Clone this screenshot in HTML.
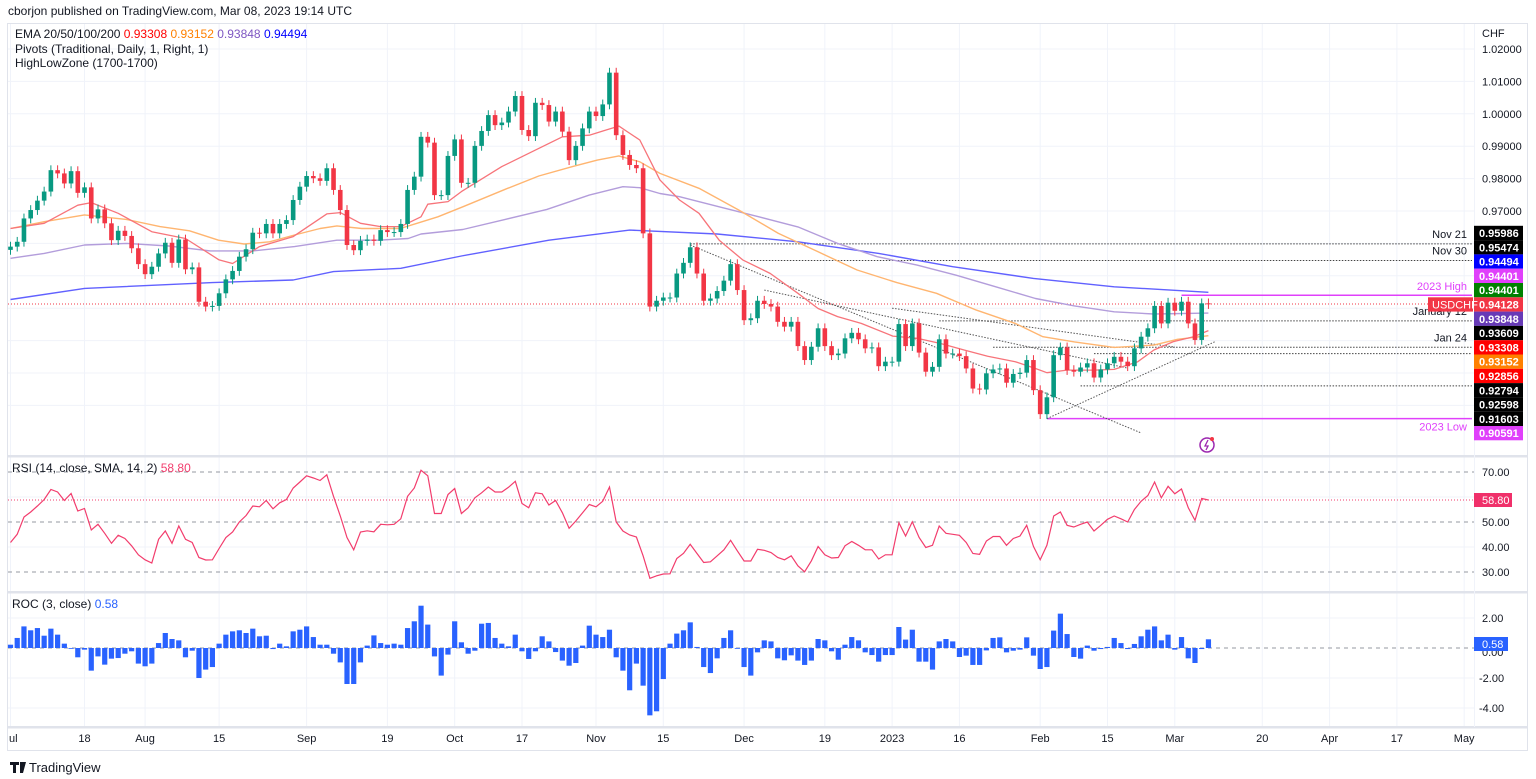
<!DOCTYPE html>
<html>
<head>
<meta charset="utf-8">
<style>
html,body{margin:0;padding:0;background:#fff;}
svg{display:block;font-family:"Liberation Sans",sans-serif;}
</style>
</head>
<body>
<svg id="chart" width="1536" height="779" viewBox="0 0 1536 779" xmlns="http://www.w3.org/2000/svg">
<text x="8" y="15" font-size="12" fill="#131722">cborjon published on TradingView.com, Mar 08, 2023 19:14 UTC</text>
<rect x="7.5" y="23.5" width="1520" height="727" fill="none" stroke="#e0e3eb"/>
<g id="grid"></g>
<g id="main"></g>
<g id="rsi"></g>
<g id="roc"></g>
<g id="axes"></g>
<g font-size="12" fill="#131722">
<text x="15" y="38">EMA 20/50/100/200 <tspan fill="#ff0000">0.93308</tspan> <tspan fill="#ff8000">0.93152</tspan> <tspan fill="#7e57c2">0.93848</tspan> <tspan fill="#0000ff">0.94494</tspan></text>
<text x="15" y="53">Pivots (Traditional, Daily, 1, Right, 1)</text>
<text x="15" y="67">HighLowZone (1700-1700)</text>
<text x="12" y="472">RSI (14, close, SMA, 14, 2) <tspan fill="#f23d6d">58.80</tspan></text>
<text x="12" y="608">ROC (3, close) <tspan fill="#2962ff">0.58</tspan></text>
</g>
<g>
<path d="M10 762h9v3h-3v8h-3v-8h-3z M20 762h6l-3 11h-3z" fill="#131722"/>
<text x="29" y="772" font-size="13" fill="#131722">TradingView</text>
</g>
<g>
<circle cx="1207" cy="445" r="7" fill="none" stroke="#9c27b0" stroke-width="1.5"/>
<path d="M1208 440l-3 6h3l-2 4" fill="none" stroke="#9c27b0" stroke-width="1.3"/>
<circle cx="1212" cy="439" r="2" fill="#f23645"/>
</g>
</svg>
<script>
const closes=[0.9590,0.9605,0.9677,0.9703,0.9732,0.9760,0.9826,0.9816,0.9785,0.9823,
0.9756,0.9773,0.9677,0.9705,0.9662,0.9610,0.9639,0.9623,0.9585,0.9536,
0.9505,0.9528,0.9569,0.9602,0.9540,0.9612,0.9520,0.9526,0.9420,0.9405,
0.9407,0.9446,0.9489,0.9515,0.9559,0.9582,0.9633,0.9631,0.9660,0.9631,
0.9660,0.9672,0.9734,0.9775,0.9808,0.9801,0.9793,0.9832,0.9765,0.9703,
0.9595,0.9579,0.9608,0.9612,0.9608,0.9641,0.9635,0.9635,0.9660,0.9765,
0.9806,0.9929,0.9911,0.9749,0.9749,0.9870,0.9921,0.9787,0.9787,0.9901,
0.9947,0.9996,0.9965,0.9973,1.0007,1.0055,0.9950,0.9931,1.0034,1.0027,
0.9976,1.0007,0.9945,0.9857,0.9901,0.9955,1.0007,0.9993,1.0029,1.0127,
0.9934,0.9873,0.9842,0.9832,0.9631,0.9405,
0.9423,0.9433,0.9433,0.9507,0.9540,0.9588,0.9507,0.9423,0.9430,0.9453,
0.9485,0.9536,0.9456,0.9363,0.9369,0.9423,0.9413,0.9405,0.9358,0.9343,
0.9358,0.9283,0.9240,0.9281,0.9338,0.9283,0.9255,0.9260,0.9307,0.9324,
0.9304,0.9276,0.9279,0.9221,0.9235,0.9235,0.9351,0.9283,0.9353,0.9263,
0.9204,0.9219,0.9304,0.9260,0.9260,0.9252,0.9214,0.9152,0.9149,0.9199,
0.9211,0.9214,0.9170,0.9197,0.9201,0.9240,0.9147,0.9073,0.9125,0.9255,
0.9279,0.9209,0.9204,0.9217,0.9230,0.9186,0.9211,0.9230,0.9250,0.9235,
0.9221,0.9276,0.9312,0.9338,0.9407,0.9353,0.9417,0.9392,0.9420,0.9353,
0.9302,0.9415,0.94128];
const rsiValues=[41.8,45.1,52,54,56.4,59,63,62,58.6,61.4,
54.4,55.4,46.8,49.1,45.5,41.5,44.7,43.4,40.5,36.9,
34.9,33.6,43.1,46.4,41.5,48.4,43.1,41.8,35.8,34.8,
34.9,39.4,43.8,46,50,52.6,56.4,56.1,58.6,55.3,
57.7,59,63.6,66,68.5,67.6,66.6,68.9,60.3,52.4,
43.8,38.9,46,46.5,46.1,49.1,48.9,49.1,51.3,60.3,
63.6,70.7,68.5,53.4,53.4,61,63.4,53.4,55.7,59.7,
61.7,64,62,62,63.9,66.3,57.4,55.7,61.7,61.3,
56.8,58.6,53.7,47.5,50.4,53.7,57,56.1,58.3,64,
50,46.4,44.8,44,36.5,27.5,28.5,
29.2,29.3,35.4,37.5,41.1,37.4,33.8,34.1,36.5,38.9,
42.7,38.5,34.4,34.4,39.1,38.7,37.8,35.8,34.9,36.5,
32.5,30.1,34.5,40.2,36.9,35.6,35.8,40.5,42.2,40.7,
38.9,38.9,35.2,36.9,36.9,49.7,44.4,50.1,43.8,39.8,
40.7,48.4,45.5,45.1,44.7,41.8,37.4,37.1,42.4,44.2,
44.2,40.7,43.4,44.4,48.7,40.2,34.9,40.7,52.4,54,
48.7,48,49.1,50,46.4,48.7,51.1,52.4,51.3,50,
55,58.3,60.6,66,59.7,64.3,61.3,63.2,55.7,50.7,
59.4,58.8];
const rocValues=[0.22,0.67,1.44,1.18,1.33,0.82,1.29,0.89,0.29,0,
-0.62,-0.11,-1.51,-0.56,-1.11,-0.71,-0.67,-0.38,-0.22,-1.04,
-1.22,-1.04,0.33,1.0,0.6,0.51,-0.62,-0.18,-2.0,-1.44,
-1.27,0.29,0.89,1.11,1.18,1.0,1.29,0.78,0.82,-0.07,
0.29,0.11,1.11,1.22,1.44,0.73,0.22,0.22,-0.38,-0.96,
-2.4,-2.4,-0.96,0.16,0.84,0.33,0.22,0.29,0.22,1.33,
1.78,2.82,1.56,-0.56,-1.84,-0.44,1.78,0.38,-0.38,-0.18,
1.62,1.67,0.67,0.29,0.11,0.89,-0.22,-0.73,-0.22,0.78,
0.44,-0.27,-0.84,-1.18,-1.0,0.16,1.49,0.89,0.73,1.22,
-0.62,-1.51,-2.82,-1.04,-2.51,-4.49,-4.22,
-2.07,0.29,0.96,1.18,1.71,0.07,-1.27,-1.67,-0.69,0.67,
1.18,0,-1.27,-1.84,-0.29,0.51,0.44,-0.69,-0.82,-0.49,
-0.84,-1.13,-0.84,0.6,0.51,-0.22,-0.78,0.22,0.73,0.51,
-0.29,-0.47,-0.91,-0.47,-0.47,1.4,0.56,1.22,-0.91,-0.91,
-1.44,0.44,0.6,0.44,-0.6,-0.51,-1.13,-1.13,-0.16,0.67,
0.71,-0.29,-0.18,-0.11,0.71,-0.51,-1.4,-1.27,1.16,2.29,
0.93,-0.6,-0.71,0.16,-0.18,-0.07,0.07,0.67,0.33,-0.07,
0.27,0.78,1.22,1.44,0.51,0.89,-0.11,0.73,-0.69,-1.0,
-0.07,0.58];
const ema20Days=[0,5,10,12,16,21,26,31,33,37,42,47,49,52,55,58,61,62,65,67,73,78,82,86,88.5,90.4,93.5,96.5,99.4,102.3,105.3,108.8,112.9,117,120,122.9,126.4,131.1,134.7,138.2,141.7,145.2,149.3,152.3,154,157,161,164,167.5,169.9,172.8,175.8,178];
const ema20=[0.9646,0.9662,0.9718,0.9726,0.9693,0.9636,0.9615,0.9549,0.9538,0.9590,0.9621,0.9691,0.9695,0.9662,0.9652,0.9652,0.9682,0.9721,0.9729,0.9760,0.9837,0.9888,0.9929,0.9934,0.9950,0.9962,0.9919,0.9796,0.9734,0.9693,0.9610,0.9549,0.9507,0.9446,0.9399,0.9374,0.9353,0.9314,0.9307,0.9291,0.9271,0.9252,0.9235,0.9214,0.9201,0.9209,0.9209,0.9211,0.9235,0.9271,0.9297,0.9312,0.9331];
const ema50Days=[0,5,11,17.2,22.2,26.6,30.9,34.7,38.5,42.2,46,48.5,52.2,57.9,60.4,63.5,67.2,73.5,78.5,83.5,87.2,90.4,93.5,96.5,102.3,108.2,114.1,120,125.8,131.7,137.6,143.5,149.3,153.4,158.1,164,169.9,173.4,178];
const ema50=[0.9646,0.9667,0.9688,0.9674,0.9652,0.9639,0.9610,0.9598,0.9605,0.9626,0.9646,0.9654,0.9646,0.9646,0.9662,0.9682,0.9713,0.9767,0.9808,0.9837,0.9857,0.9870,0.9852,0.9816,0.9770,0.9703,0.9631,0.9574,0.9518,0.9479,0.9446,0.9394,0.9353,0.9312,0.9296,0.9279,0.9286,0.9304,0.9315];
const ema100Days=[0,5,11,17.2,23.5,29.7,36,42.2,48.5,54.7,59.1,61,67.2,73.5,79.7,86,91,93.5,96.5,99.4,105.3,111.2,117,122.9,128.8,134.7,140.5,146.4,152.3,158.1,164,169.9,178];
const ema100=[0.9554,0.9569,0.9595,0.9600,0.9592,0.9577,0.9577,0.9590,0.9610,0.9610,0.9615,0.9629,0.9643,0.9674,0.9705,0.9749,0.9775,0.9772,0.9754,0.9744,0.9713,0.9682,0.9651,0.9600,0.9559,0.9533,0.9502,0.9466,0.9430,0.9407,0.9389,0.9382,0.9385];
const ema200Days=[0,11,30,42,48,58,67,80,92,105,117,129,140,152,164,178];
const ema200=[0.9427,0.9461,0.9479,0.9487,0.9513,0.9523,0.9561,0.9610,0.9641,0.9629,0.9605,0.9569,0.9528,0.9492,0.9466,0.9449];
const priceTicks=[1.02,1.01,1.00,0.99,0.98,0.97,0.96,0.95,0.94,0.93,0.92,0.91];
const priceTickLabels=["1.02000","1.01000","1.00000","0.99000","0.98000","0.97000"];
const dateTickDays=[0,11,20,31,44,56,66,76,87,97,109,121,131,141,153,163,173,186,196,206,216];
const dateTickLabels=["ul","18","Aug","15","Sep","19","Oct","17","Nov","15","Dec","19","2023","16","Feb","15","Mar","20","Apr","17","May"];
const pivotLevels=[0.95986,0.95474,0.93609,0.92794,0.92598,0.91603];
const pivotStartDays=[101,110,138,146,161,159];
const pivotNames=["Nov 21","Nov 30","January 12","Jan 24","",""];
const zoneLevels=[0.94401,0.90591];
const zoneStartDays=[174,154];
const zoneNames=["2023 High","2023 Low"];
const priceBoxValues=["0.95986","0.95474","0.94494","0.94401","0.94401","0.94128","0.93848","0.93609","0.93308","0.93152","0.92856","0.92794","0.92598","0.91603","0.90591"];
const priceBoxColors=["#000","#000","#0000ff","#e040fb","#008000","#f23645","#673ab7","#000","#ff0000","#ff8000","#ff0000","#000","#000","#000","#e040fb"];
const trendStartDays=[101,112,131,154];
const trendStartPrices=[0.9595,0.9456,0.9400,0.9059];
const trendEndDays=[168,166,173,179];
const trendEndPrices=[0.9015,0.9215,0.9280,0.9297];
const lastPrice=0.94128, lastRsi=58.8, lastRoc=0.58;

const NS="http://www.w3.org/2000/svg";
function xOf(i){return 10.5+6.73*i;}
function yP(p){return 49+(1.02-p)*3240;}
function yR(v){return 472+(70-v)*2.5;}
function yC(v){return 648-v*15;}
function mk(tag,attrs,parent){const e=document.createElementNS(NS,tag);for(const k in attrs)e.setAttribute(k,attrs[k]);parent.appendChild(e);return e;}
const grid=document.getElementById('grid'),main=document.getElementById('main'),rsi=document.getElementById('rsi'),roc=document.getElementById('roc'),axes=document.getElementById('axes');
const RX=1474;

// grid
dateTickDays.forEach(d=>{const x=xOf(d);if(x>8&&x<RX){const l=mk('line',{x1:x,x2:x,y1:24,y2:727,stroke:'#f0f3fa'},grid);

}});
priceTicks.forEach(p=>{const l=mk('line',{x1:8,x2:RX,y1:yP(p),y2:yP(p),stroke:'#f0f3fa'},grid);

});
[60,40].forEach(v=>{const l=mk('line',{x1:8,x2:RX,y1:yR(v),y2:yR(v),stroke:'#f0f3fa'},grid);

});
[2,-2,-4].forEach(v=>{const l=mk('line',{x1:8,x2:RX,y1:yC(v),y2:yC(v),stroke:'#f0f3fa'},grid);

});
// pane separators
[456,592,727].forEach(y=>{const r=mk('rect',{x:8,y:y-1,width:1519,height:2.5,fill:'#e0e3eb'},grid);

});
mk('line',{x1:RX+0.5,x2:RX+0.5,y1:24,y2:727,stroke:'#f0f3fa'},grid);

// pivot lines
pivotLevels.forEach((p,k)=>{const y=yP(p);const l=mk('line',{x1:xOf(pivotStartDays[k]),x2:RX-2,y1:y,y2:y,stroke:'#444','stroke-dasharray':'1.5,1.5','stroke-width':1},main);


if(pivotNames[k]){const t=mk('text',{x:RX-7,y:y-6,'text-anchor':'end','font-size':11,fill:'#131722'},main);t.textContent=pivotNames[k];

}});
zoneLevels.forEach((p,k)=>{const y=yP(p);const l=mk('line',{x1:xOf(zoneStartDays[k]),x2:RX-2,y1:y,y2:y,stroke:'#e040fb','stroke-width':1.5},main);


const t=mk('text',{x:RX-7,y:k==0?y-5:y+12,'text-anchor':'end','font-size':11,fill:'#e040fb'},main);t.textContent=zoneNames[k];

});
trendStartDays.forEach((d,k)=>{const l=mk('line',{x1:xOf(d),y1:yP(trendStartPrices[k]),x2:xOf(trendEndDays[k]),y2:yP(trendEndPrices[k]),stroke:'#555','stroke-dasharray':'1.5,1.5'},main);

});
// current price line
{const y=yP(lastPrice);const l=mk('line',{x1:8,x2:RX,y1:y,y2:y,stroke:'#f23645','stroke-dasharray':'1,2'},main);

}

// EMAs
function poly(days,vals,color,name,w){const pts=days.map((d,k)=>xOf(d).toFixed(1)+','+yP(vals[k]).toFixed(1)).join(' ');
const pl=mk('polyline',{points:pts,fill:'none',stroke:color,'stroke-width':w,'stroke-linejoin':'round'},main);

}
poly(ema200Days,ema200,'#6161ff','ema-200-line',1.4);
poly(ema100Days,ema100,'#b39ddb','ema-100-line',1.4);
poly(ema50Days,ema50,'#ffb570','ema-50-line',1.4);
poly(ema20Days,ema20,'#f7747a','ema-20-line',1.3);

// candles
closes.forEach((c,i)=>{const o=i?closes[i-1]:c-0.001;const up=c>=o;const col=up?'#089981':'#f23645';
const hi=Math.max(o,c)+0.0015,lo=Math.min(o,c)-0.0015;const x=xOf(i);
const g=mk('g',{},main);


mk('line',{x1:x,x2:x,y1:yP(hi),y2:yP(lo),stroke:col,'stroke-width':1},g);
const yt=yP(Math.max(o,c)),yb=yP(Math.min(o,c));
mk('rect',{x:x-2.3,y:yt,width:4.6,height:Math.max(1,yb-yt),fill:col},g);});

// RSI
[70,50,30].forEach(v=>{const l=mk('line',{x1:8,x2:RX,y1:yR(v),y2:yR(v),stroke:'#9598a1','stroke-dasharray':'4,4'},rsi);

});
{const l=mk('line',{x1:8,x2:RX,y1:yR(lastRsi),y2:yR(lastRsi),stroke:'#f23d6d','stroke-dasharray':'1,2'},rsi);

}
{const pts=rsiValues.map((v,i)=>xOf(i).toFixed(1)+','+yR(v).toFixed(1)).join(' ');
const pl=mk('polyline',{points:pts,fill:'none',stroke:'#f23d6d','stroke-width':1.2},rsi);

}

// ROC
{const l=mk('line',{x1:8,x2:RX,y1:yC(0),y2:yC(0),stroke:'#9598a1','stroke-dasharray':'4,4'},roc);

}
rocValues.forEach((v,i)=>{const y0=yC(0),y1=yC(v);const r=mk('rect',{x:xOf(i)-2.6,y:Math.min(y0,y1),width:5.2,height:Math.max(0.8,Math.abs(y1-y0)),fill:'#2962ff'},roc);

});

// axes labels
priceTickLabels.forEach((s,k)=>{const t=mk('text',{x:1482,y:yP(priceTicks[k])+4,'font-size':11,fill:'#131722'},axes);t.textContent=s;

});
{const t=mk('text',{x:1482,y:37,'font-size':11,fill:'#131722'},axes);t.textContent='CHF';

}
priceBoxValues.forEach((s,k)=>{const yc=233+k*14.3;const g=mk('g',{},axes);


mk('rect',{x:1474,y:yc-7.2,width:49,height:14.3,fill:priceBoxColors[k]},g);
const t=mk('text',{x:1479,y:yc+4,'font-size':11,'font-weight':'bold',fill:'#fff'},g);t.textContent=s;});
{const yc=233+5*14.3;const g=mk('g',{},axes);


mk('rect',{x:1428,y:yc-7.2,width:45,height:14.3,fill:'#f23645'},g);
const t=mk('text',{x:1432,y:yc+4,'font-size':11,fill:'#fff'},g);t.textContent='USDCHF';}
[70,50,40,30].forEach(v=>{const t=mk('text',{x:1482,y:yR(v)+4,'font-size':11,fill:'#131722'},axes);t.textContent=v.toFixed(2);

});
{const g=mk('g',{},axes);


mk('rect',{x:1474,y:yR(lastRsi)-7,width:38,height:14,fill:'#f0306a'},g);
const t=mk('text',{x:1482,y:yR(lastRsi)+4,'font-size':11,fill:'#fff'},g);t.textContent=lastRsi.toFixed(2);}
[2,-2,-4].forEach(v=>{const t=mk('text',{x:v<0?1479:1482,y:yC(v)+4,'font-size':11,fill:'#131722'},axes);t.textContent=v.toFixed(2);

});
{const t=mk('text',{x:1482,y:yC(0)+8,'font-size':11,fill:'#131722'},axes);t.textContent='0.00';

}
{const g=mk('g',{},axes);


mk('rect',{x:1474,y:yC(0)-11,width:34,height:14,fill:'#2962ff'},g);
const t=mk('text',{x:1482,y:yC(0),'font-size':11,fill:'#fff'},g);t.textContent=lastRoc.toFixed(2);}
dateTickLabels.forEach((s,k)=>{const x=xOf(dateTickDays[k]);const t=mk('text',{x:k==0?9:x,y:742,'text-anchor':k==0?'start':'middle','font-size':11,fill:'#131722'},axes);t.textContent=s;

});
</script>
</body>
</html>
